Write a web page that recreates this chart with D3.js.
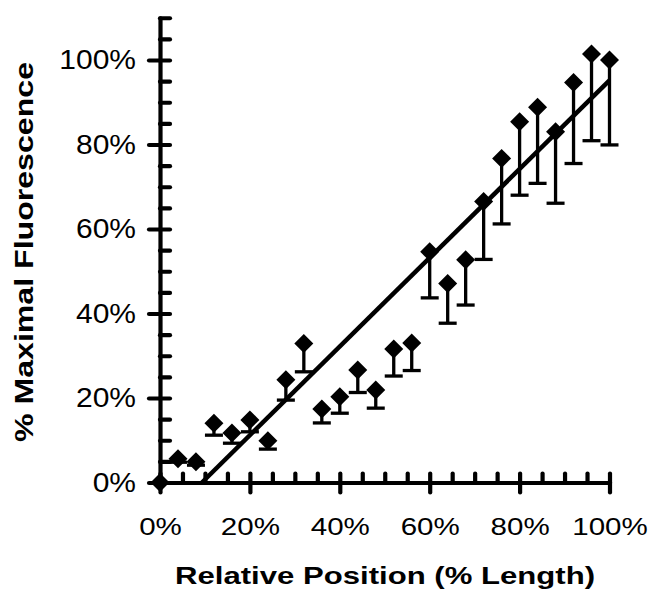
<!DOCTYPE html>
<html>
<head>
<meta charset="utf-8">
<script src="https://cdn.jsdelivr.net/npm/d3@7"></script>
<style>
  html, body { margin: 0; padding: 0; background: #fff; }
  svg { display: block; }
  text { font-family: "Liberation Sans", Arial, Helvetica, sans-serif; fill: #000; }
</style>
</head>
<body>
<svg id="chart" width="652" height="597"></svg>
<script>
// Relative position along the length (%)
const positions = [0, 4, 8, 12, 16, 20, 24, 28, 32, 36, 40, 44, 48, 52, 56, 60, 64, 68, 72, 76, 80, 84, 88, 92, 96, 100];
// Mean fluorescence (% of maximum)
const fluorescence = [0, 5.6, 4.9, 14.0, 11.7, 14.8, 9.9, 24.3, 32.9, 17.4, 20.3, 26.6, 21.9, 31.6, 33.0, 54.6, 47.1, 52.7, 66.5, 76.7, 85.4, 88.8, 83.0, 94.7, 101.4, 100.0];
// Lower error (one-sided, drawn downward)
const errorLow = [0, 0.8, 0.8, 2.8, 2.4, 2.8, 2.0, 4.8, 6.7, 3.3, 3.9, 5.3, 4.3, 6.4, 6.5, 10.9, 9.4, 10.7, 13.7, 15.5, 17.4, 18.0, 16.9, 19.2, 20.5, 20.1];
// Linear trend: y = slope * x + intercept
const trendSlope = 1.05;
const trendIntercept = -9.8;
// Axis ticks
const xMajorTicks = [0, 20, 40, 60, 80, 100];
const xMinorTicks = d3.range(0, 101, 5);
const yMajorTicks = [0, 20, 40, 60, 80, 100];
const yMinorTicks = d3.range(0, 111, 5);
const xTitle = "Relative Position (% Length)";
const yTitle = "% Maximal Fluorescence";

const svg = d3.select("#chart");
const x = d3.scaleLinear().domain([0, 100]).range([160, 609.5]);
const y = d3.scaleLinear().domain([0, 110]).range([482.5, 17.75]);
const pct = d => d + "%";

// stretch a text element horizontally along its run
function stretch(sel, factor) {
  sel.each(function () {
    const w = this.getComputedTextLength();
    d3.select(this).attr("textLength", w * factor).attr("lengthAdjust", "spacingAndGlyphs");
  });
}

function styleAxis(g) {
  g.select(".domain").attr("stroke", "#000").attr("stroke-width", 4.2).attr("stroke-linecap", "round");
  g.selectAll(".tick line").attr("stroke", "#000").attr("stroke-width", 4.2).attr("stroke-linecap", "round");
}

// Y axis: minor ticks inward, major ticks outward with labels
const yInner = svg.append("g").attr("transform", `translate(${x(0)},0)`)
  .call(d3.axisRight(y).tickValues(yMinorTicks).tickSize(10).tickSizeOuter(0).tickFormat(""));
styleAxis(yInner);
const yOuter = svg.append("g").attr("transform", `translate(${x(0)},0)`)
  .call(d3.axisLeft(y).tickValues(yMajorTicks).tickSize(11).tickSizeOuter(0).tickPadding(13).tickFormat(pct));
styleAxis(yOuter);
yOuter.select(".domain").remove();
yOuter.selectAll(".tick text").attr("font-size", 27).attr("fill", "#111");
stretch(yOuter.selectAll(".tick text"), 1.11);

// X axis: minor ticks upward, major ticks downward with labels
const xInner = svg.append("g").attr("transform", `translate(0,${y(0)})`)
  .call(d3.axisTop(x).tickValues(xMinorTicks).tickSize(9).tickSizeOuter(0).tickFormat(""));
styleAxis(xInner);
const xOuter = svg.append("g").attr("transform", `translate(0,${y(0)})`)
  .call(d3.axisBottom(x).tickValues(xMajorTicks).tickSize(10).tickSizeOuter(0).tickPadding(25).tickFormat(pct));
styleAxis(xOuter);
xOuter.select(".domain").remove();
xOuter.selectAll(".tick text").attr("font-size", 24).attr("fill", "#111");
stretch(xOuter.selectAll(".tick text"), 1.23);

// Axis titles
svg.append("text")
  .attr("x", 385).attr("y", 584)
  .attr("text-anchor", "middle")
  .attr("font-size", 24).attr("font-weight", "bold")
  .attr("textLength", 420).attr("lengthAdjust", "spacingAndGlyphs")
  .attr("fill", "#111")
  .text(xTitle);
svg.append("text")
  .attr("transform", "translate(33,252) rotate(-90)")
  .attr("text-anchor", "middle")
  .attr("font-size", 25).attr("font-weight", "bold")
  .attr("textLength", 380).attr("lengthAdjust", "spacingAndGlyphs")
  .attr("fill", "#111")
  .text(yTitle);

const data = positions.map((p, i) => ({ p, v: fluorescence[i], e: errorLow[i] }));

// Error bars (downward, with cap)
const bars = svg.append("g").attr("stroke", "#000").attr("stroke-width", 3.3);
const withErr = data.filter(d => d.e > 0);
bars.selectAll("line.stem").data(withErr).join("line")
  .attr("class", "stem")
  .attr("x1", d => x(d.p)).attr("x2", d => x(d.p))
  .attr("y1", d => y(d.v)).attr("y2", d => y(d.v - d.e));
bars.selectAll("line.cap").data(withErr).join("line")
  .attr("class", "cap")
  .attr("x1", d => x(d.p) - 9).attr("x2", d => x(d.p) + 9)
  .attr("y1", d => y(d.v - d.e)).attr("y2", d => y(d.v - d.e));

// Trend line, from where it crosses zero up to 100%
const x0 = -trendIntercept / trendSlope;
svg.append("line")
  .attr("x1", x(x0)).attr("y1", y(0))
  .attr("x2", x(100)).attr("y2", y(trendSlope * 100 + trendIntercept))
  .attr("stroke", "#000").attr("stroke-width", 4.5);

// Diamond markers (half-diagonal r)
const diamondType = {
  draw(ctx, r) {
    ctx.moveTo(0, -r); ctx.lineTo(r, 0); ctx.lineTo(0, r); ctx.lineTo(-r, 0); ctx.closePath();
  }
};
const diamond = d3.symbol().type(diamondType).size(9.5);
svg.append("g").selectAll("path").data(data).join("path")
  .attr("transform", d => `translate(${x(d.p)},${y(d.v)})`)
  .attr("d", diamond)
  .attr("fill", "#000");
</script>
</body>
</html>
